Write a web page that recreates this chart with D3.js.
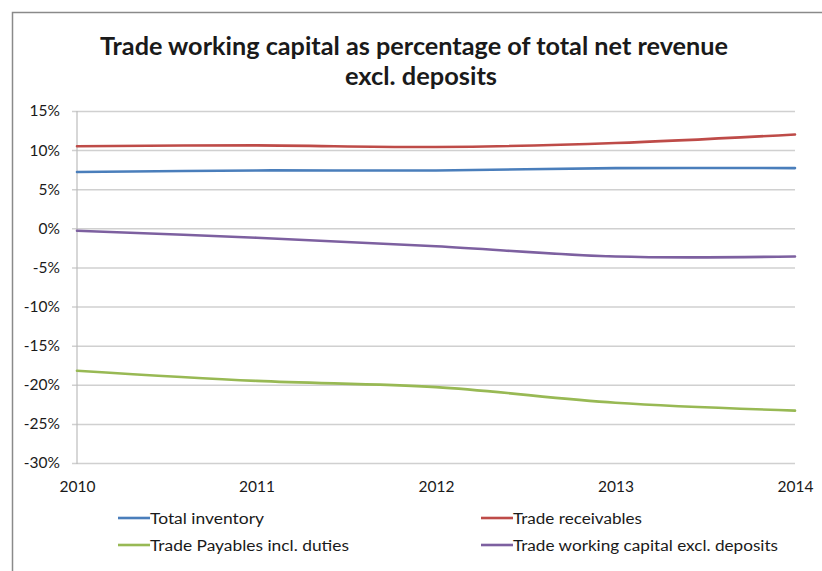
<!DOCTYPE html>
<html>
<head>
<meta charset="utf-8">
<script src="https://cdn.jsdelivr.net/npm/d3@7"></script>
<style>
  html, body { margin: 0; padding: 0; background: #fff; overflow: hidden; }
  svg { display: block; }
  svg text { font-family: Lato, "Open Sans", sans-serif; fill: #1a1a1a; }
</style>
</head>
<body>
<svg id="chart" width="822" height="571"></svg>
<script>
// Category axis (years) and y ticks
const years = [2010, 2011, 2012, 2013, 2014];
const yTicks = [15, 10, 5, 0, -5, -10, -15, -20, -25, -30];

// Series values, % of total net revenue
const totalInventory = [7.2, 7.4, 7.4, 7.7, 7.7];
const tradeReceivables = [10.5, 10.6, 10.4, 10.9, 12.0];
const tradePayables = [-18.2, -19.5, -20.3, -22.3, -23.3];
const tradeWorkingCapital = [-0.3, -1.2, -2.3, -3.6, -3.6];

const seriesNames = ["Total inventory", "Trade receivables", "Trade Payables incl. duties", "Trade working capital excl. deposits"];
const seriesColors = ["#4a7ebb", "#be4b48", "#98b954", "#7d60a0"];
const seriesValues = [totalInventory, tradeReceivables, tradePayables, tradeWorkingCapital];

const svg = d3.select("#chart");

// Chart frame (left and top edges fall inside the view)
svg.append("path")
  .attr("d", "M12.5,571 V12.5 H822")
  .attr("fill", "none").attr("stroke", "#8a8a8a").attr("stroke-width", 1.5);

// Title
const title = svg.append("text")
  .attr("text-anchor", "middle")
  .attr("font-weight", "bold")
  .attr("font-size", 24);
title.append("tspan").attr("x", 414).attr("y", 55)
  .attr("textLength", 628).attr("lengthAdjust", "spacingAndGlyphs")
  .text("Trade working capital as percentage of total net revenue");
title.append("tspan").attr("x", 421).attr("y", 85)
  .attr("textLength", 152).attr("lengthAdjust", "spacingAndGlyphs")
  .text("excl. deposits");

const x = d3.scaleLinear().domain([2010, 2014]).range([77, 795]);
const y = d3.scaleLinear().domain([-30, 15]).range([463, 111]);

// Y axis with gridlines
const yAxis = d3.axisLeft(y)
  .tickValues(yTicks)
  .tickSize(-(795 - 72))
  .tickPadding(12)
  .tickFormat(d => d + "%");

const gy = svg.append("g").attr("transform", "translate(72,0)").call(yAxis);
gy.select(".domain").remove();
gy.selectAll(".tick line").attr("stroke", "#d0d0d0").attr("stroke-width", 1.5);
gy.selectAll(".tick text").attr("font-size", 15.5).attr("fill", "#1a1a1a");

// Vertical value axis line
svg.append("line")
  .attr("x1", 77).attr("x2", 77)
  .attr("y1", y(15)).attr("y2", y(-30) + 1)
  .attr("stroke", "#bdbdbd").attr("stroke-width", 1.2);

// X axis labels
const xAxis = d3.axisBottom(x)
  .tickValues(years)
  .tickSize(0)
  .tickPadding(18)
  .tickFormat(d3.format("d"));
const gx = svg.append("g").attr("transform", `translate(0,${y(-30)})`).call(xAxis);
gx.select(".domain").remove();
gx.selectAll(".tick text").attr("font-size", 15.5).attr("fill", "#1a1a1a");

// Series lines
const line = d3.line()
  .x((d, i) => x(years[i]))
  .y(d => y(d))
  .curve(d3.curveCatmullRom.alpha(0.5));

seriesValues.forEach((vals, k) => {
  svg.append("path")
    .datum(vals)
    .attr("d", line)
    .attr("fill", "none")
    .attr("stroke", seriesColors[k])
    .attr("stroke-width", 2.6)
    .attr("stroke-linejoin", "round")
    .attr("stroke-linecap", "round");
});

// Legend, two columns
const legendPos = [[118, 518], [481, 518], [118, 545], [481, 545]];
const legendTextWidth = [114, 129, 199, 265];
seriesNames.forEach((name, k) => {
  const [lx, ly] = legendPos[k];
  svg.append("line")
    .attr("x1", lx).attr("x2", lx + 32)
    .attr("y1", ly).attr("y2", ly)
    .attr("stroke", seriesColors[k]).attr("stroke-width", 2.6);
  svg.append("text")
    .attr("x", lx + 32).attr("y", ly + 5.5)
    .attr("font-size", 15.5)
    .attr("textLength", legendTextWidth[k]).attr("lengthAdjust", "spacingAndGlyphs")
    .text(name);
});
</script>
</body>
</html>
